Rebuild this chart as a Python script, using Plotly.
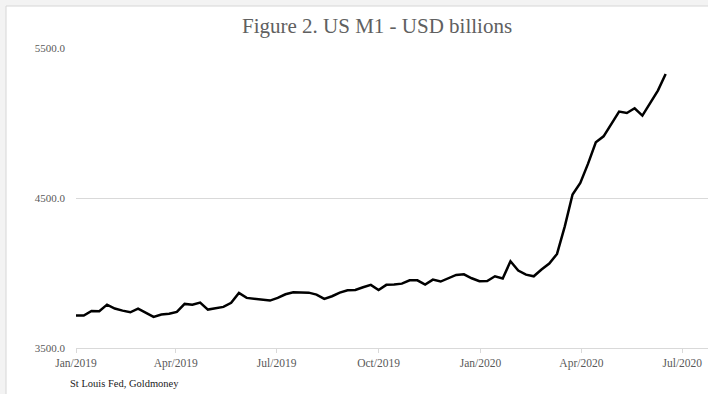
import plotly.graph_objects as go

# ---- data ----
dates = [
    "2019-01-01", "2019-01-08", "2019-01-15", "2019-01-22", "2019-01-29",
    "2019-02-05", "2019-02-12", "2019-02-19", "2019-02-26",
    "2019-03-05", "2019-03-12", "2019-03-19", "2019-03-26",
    "2019-04-02", "2019-04-09", "2019-04-16", "2019-04-23", "2019-04-30",
    "2019-05-07", "2019-05-14", "2019-05-21", "2019-05-28",
    "2019-06-04", "2019-06-11", "2019-06-18", "2019-06-25",
    "2019-07-02", "2019-07-09", "2019-07-16", "2019-07-23", "2019-07-30",
    "2019-08-06", "2019-08-13", "2019-08-20", "2019-08-27",
    "2019-09-03", "2019-09-10", "2019-09-17", "2019-09-24",
    "2019-10-01", "2019-10-08", "2019-10-15", "2019-10-22", "2019-10-29",
    "2019-11-05", "2019-11-12", "2019-11-19", "2019-11-26",
    "2019-12-03", "2019-12-10", "2019-12-17", "2019-12-24", "2019-12-31",
    "2020-01-07", "2020-01-14", "2020-01-21", "2020-01-28",
    "2020-02-04", "2020-02-11", "2020-02-18", "2020-02-25",
    "2020-03-03", "2020-03-10", "2020-03-17", "2020-03-24", "2020-03-31",
    "2020-04-07", "2020-04-14", "2020-04-21", "2020-04-28",
    "2020-05-05", "2020-05-12", "2020-05-19", "2020-05-26",
    "2020-06-02", "2020-06-09", "2020-06-16",
]
m1_usd_bn = [
    3716, 3716, 3747, 3745, 3789, 3763, 3749, 3738, 3763, 3734,
    3707, 3723, 3729, 3741, 3794, 3789, 3803, 3756, 3767, 3774,
    3801, 3867, 3834, 3827, 3821, 3816, 3834, 3858, 3871, 3871,
    3869, 3856, 3827, 3845, 3869, 3885, 3887, 3905, 3921, 3887,
    3921, 3923, 3929, 3951, 3951, 3923, 3956, 3943, 3967, 3987,
    3991, 3965, 3945, 3947, 3978, 3963, 4078, 4016, 3989, 3978,
    4023, 4063, 4127, 4311, 4523, 4601, 4729, 4871, 4911, 4994,
    5076, 5067, 5098, 5049, 5134, 5216, 5327,
]
title_text = "Figure 2. US M1 - USD billions"
source_text = "St Louis Fed, Goldmoney"
y_ticks = [3500, 4500, 5500]

FONT = "Liberation Serif"
GREY_TXT = "#595959"
GRID = "#d9d9d9"

fig = go.Figure()
fig.add_trace(go.Scatter(
    x=dates, y=m1_usd_bn, mode="lines",
    line=dict(color="#000000", width=2.5),
    hoverinfo="skip", showlegend=False,
))

fig.update_layout(
    width=708, height=394,
    margin=dict(l=76, r=0, t=48, b=46),
    paper_bgcolor="#f3f3f3",
    plot_bgcolor="rgba(0,0,0,0)",
    showlegend=False,
    font=dict(family=FONT, color=GREY_TXT, size=11),
    xaxis=dict(
        type="date",
        range=["2019-01-01", "2020-07-24 05:00"],
        tick0="2019-01-01", dtick="M3", tickformat="%b/%Y",
        showgrid=False, zeroline=False,
        showline=True, linecolor=GRID, linewidth=1,
        ticks="outside", ticklen=4, tickcolor=GRID, tickwidth=1,
        tickfont=dict(family=FONT, size=11.5, color=GREY_TXT),
    ),
    yaxis=dict(
        range=[3500, 5500],
        tickvals=y_ticks, tickformat=".1f",
        showgrid=True, gridcolor=GRID, gridwidth=1,
        zeroline=False, showline=False, ticks="",
        ticklabelstandoff=10,
        tickfont=dict(family=FONT, size=11, color=GREY_TXT),
    ),
    shapes=[
        dict(type="rect", xref="paper", yref="paper",
             x0=(6 - 76) / 632, x1=1.05, y0=-0.2, y1=(348 - 6) / 300,
             fillcolor="#ffffff", line=dict(color="#d6d6d6", width=1),
             layer="below"),
    ],
    annotations=[
        dict(text=title_text, xref="paper", yref="paper",
             x=(377 - 76) / 632, y=(348 - 25.5) / 300,
             xanchor="center", yanchor="middle", showarrow=False,
             font=dict(family=FONT, size=21, color="#606060")),
        dict(text=source_text, xref="paper", yref="paper",
             x=(68 - 76) / 632, y=(348 - 383.5) / 300,
             xanchor="left", yanchor="middle", showarrow=False,
             font=dict(family=FONT, size=10.5, color="#1a1a1a")),
    ],
)

fig.write_html(
    "out.html",
    config={"displayModeBar": False},
    post_script="document.body.style.margin='0px';document.body.style.overflow='hidden';",
)
